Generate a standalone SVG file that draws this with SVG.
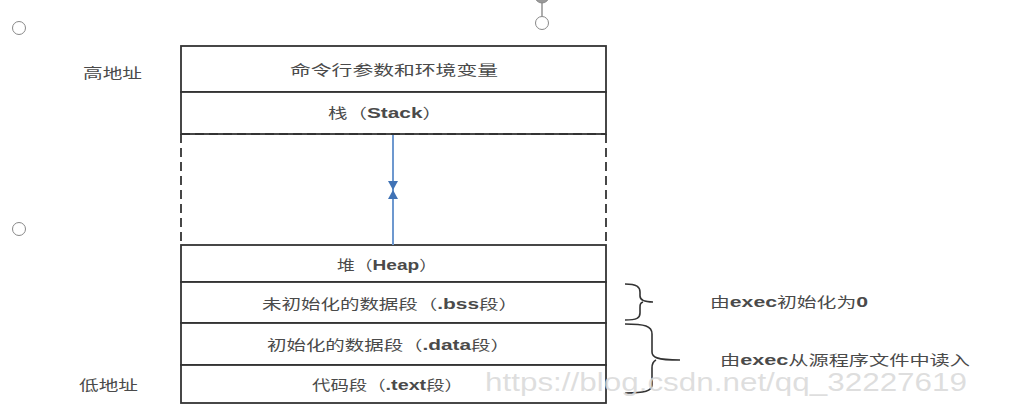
<svg xmlns="http://www.w3.org/2000/svg" width="1033" height="419" viewBox="0 0 1033 419">
<defs>
<style>
.box{fill:#fff;stroke:#333;stroke-width:1.8}
.dash{stroke:#333;stroke-width:1.8;fill:none;stroke-dasharray:9 5}
.t{font-family:"Noto Sans CJK SC",sans-serif;font-size:14px;fill:#4a4a4a;text-anchor:start;dominant-baseline:central}
.lat{font-family:"Liberation Sans",Arial,sans-serif;font-weight:bold;font-size:15px}
.handle{fill:#fff;stroke:#888;stroke-width:1}
.brace{fill:none;stroke:#333;stroke-width:1.6}
.wm{font-family:"Liberation Sans",Arial,sans-serif;font-size:26px;fill:#d9d9d9;fill-opacity:0.85;dominant-baseline:central}
</style>
</defs>
<rect width="1033" height="419" fill="#fff"/>

<g id="handles">
<line x1="542" y1="2" x2="542" y2="16" stroke="#777" stroke-width="1.2"/>
<circle cx="542" cy="-4" r="7" fill="#999" stroke="#888"/>
<circle class="handle" cx="542" cy="23" r="6.5"/>
<circle class="handle" cx="19" cy="28" r="6.5"/>
<circle class="handle" cx="19" cy="229" r="6.5"/>
</g>

<g id="label-high">
<text class="t" x="83" y="72" textLength="59" lengthAdjust="spacingAndGlyphs">高地址</text>
</g>
<g id="label-low">
<text class="t" x="79" y="384" textLength="59" lengthAdjust="spacingAndGlyphs">低地址</text>
</g>

<g id="row-args">
<rect class="box" x="181" y="46" width="425" height="46"/>
<text class="t" x="290" y="69" textLength="208" lengthAdjust="spacingAndGlyphs">命令行参数和环境变量</text>
</g>
<g id="row-stack">
<rect class="box" x="181" y="92" width="425" height="42"/>
<text class="t" x="328" y="112" textLength="114" lengthAdjust="spacingAndGlyphs">栈（<tspan class="lat">Stack</tspan>）</text>
</g>
<g id="row-gap">
<line class="dash" x1="181" y1="134" x2="606" y2="134"/>
<line class="dash" x1="181" y1="134" x2="181" y2="245"/>
<line class="dash" x1="606" y1="134" x2="606" y2="245"/>
</g>
<g id="row-heap">
<rect class="box" x="181" y="245" width="425" height="37"/>
<text class="t" x="337" y="264" textLength="100" lengthAdjust="spacingAndGlyphs">堆（<tspan class="lat">Heap</tspan>）</text>
</g>
<g id="row-bss">
<rect class="box" x="181" y="282" width="425" height="41"/>
<text class="t" x="262" y="303" textLength="256" lengthAdjust="spacingAndGlyphs">未初始化的数据段（<tspan class="lat">.bss</tspan>段）</text>
</g>
<g id="row-data">
<rect class="box" x="181" y="323" width="425" height="42"/>
<text class="t" x="267" y="344" textLength="243" lengthAdjust="spacingAndGlyphs">初始化的数据段（<tspan class="lat">.data</tspan>段）</text>
</g>
<g id="row-text">
<rect class="box" x="181" y="365" width="425" height="38"/>
<text class="t" x="312" y="384" textLength="151" lengthAdjust="spacingAndGlyphs">代码段（<tspan class="lat">.text</tspan>段）</text>
</g>

<g id="note-bss">
<text class="t" x="710" y="301" textLength="158" lengthAdjust="spacingAndGlyphs">由<tspan class="lat">exec</tspan>初始化为<tspan class="lat">0</tspan></text>
</g>
<g id="note-load">
<text class="t" x="720" y="359" textLength="250" lengthAdjust="spacingAndGlyphs">由<tspan class="lat">exec</tspan>从源程序文件中读入</text>
</g>

<g id="connectors">
<line x1="393" y1="135" x2="393" y2="245" stroke="#6d98cf" stroke-width="2"/>
<polygon points="388,181 398,181 393,190" fill="#3f72b5"/>
<polygon points="393,190 388,199 398,199" fill="#3f72b5"/>
<path class="brace" d="M625,284 C637,284 640,287 640,292 L640,296 C640,300 643,302 653,302 M643,302 C640,303 640,305 640,308 L640,313 C640,318 637,320 625,320"/>
<path class="brace" d="M625,324 C645,324 652,326 652,334 L652,352 C652,357 656,360 680,360 M656,360 C652,362 652,365 652,368 L652,385 C652,391 645,393 625,393"/>
</g>

<text class="wm" x="485" y="382" textLength="482" lengthAdjust="spacingAndGlyphs">https://blog.csdn.net/qq_32227619</text>
</svg>
